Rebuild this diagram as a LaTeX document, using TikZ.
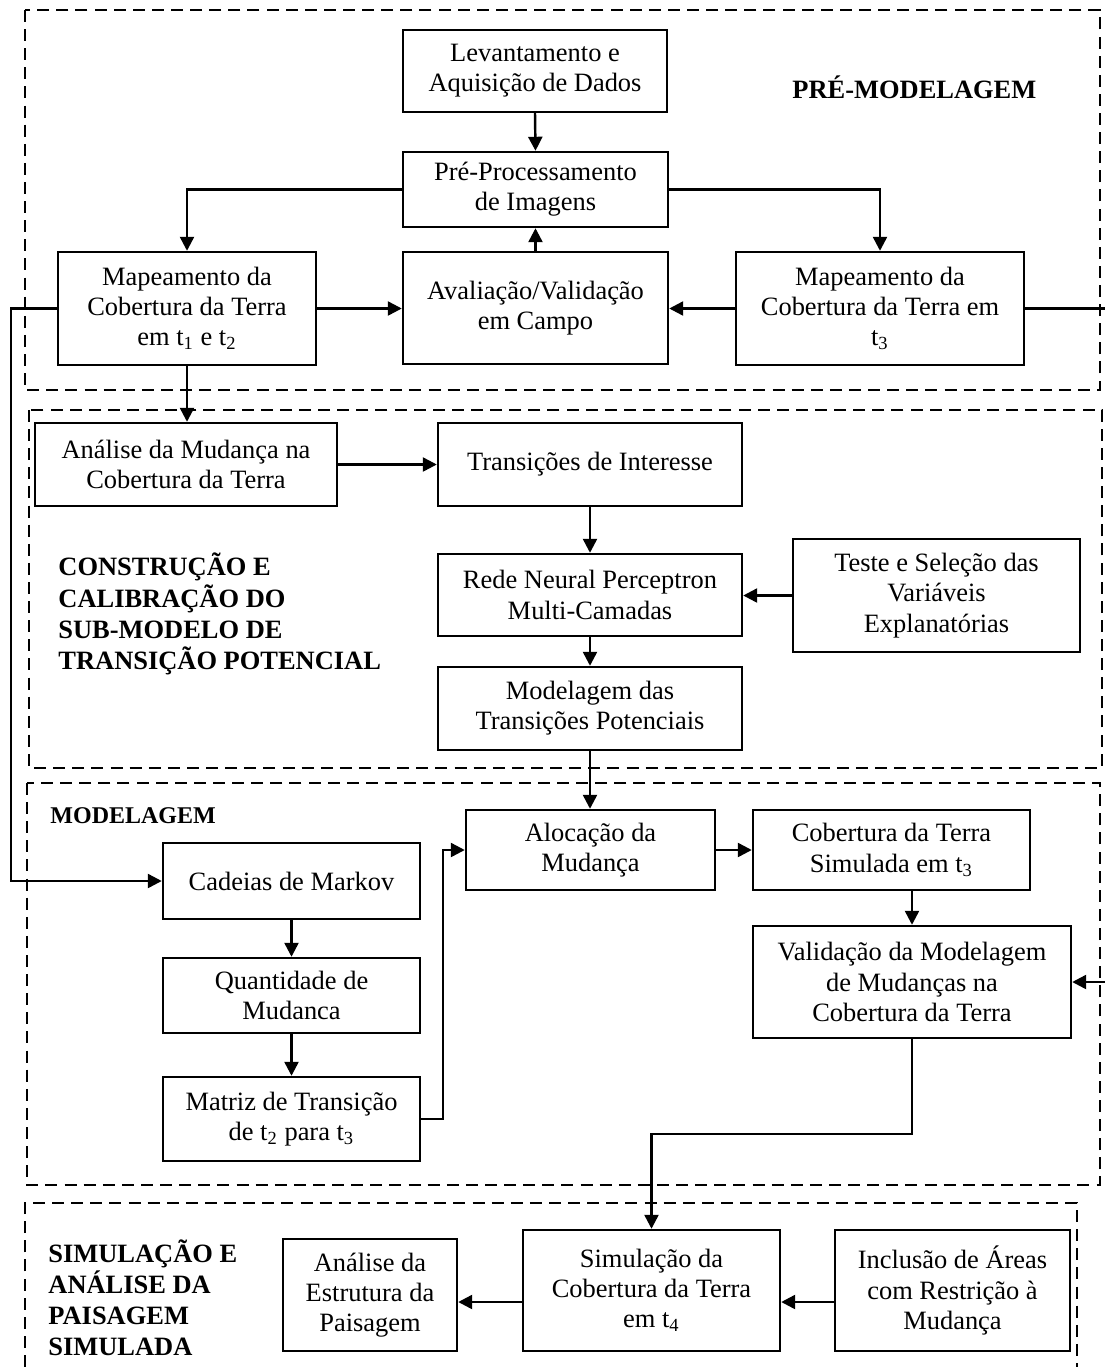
\documentclass[tikz,border=0pt]{standalone}
\usepackage{fontspec}
\setmainfont{Liberation Serif}
\usetikzlibrary{arrows.meta}

\begin{document}
\begin{tikzpicture}[x=0.45pt,y=-0.45pt,
  box/.style={draw, line width=1.1pt, inner sep=0pt, align=center,
    font=\fontsize{11.9pt}{13.6pt}\selectfont},
  wh/.style 2 args={minimum width=#1*0.45pt, minimum height=#2*0.45pt},
  frame/.style={line width=1.2pt, dash pattern=on 5.4pt off 3.2pt},
  conn/.style={line width=1.1pt},
  arr/.style={conn, -{Triangle[length=6.3pt,width=6.3pt]}},
  phase/.style={font=\fontsize{11.9pt}{14pt}\selectfont\bfseries, align=left, inner sep=0pt, anchor=west}
]
\useasboundingbox (0,0) rectangle (1105,1367);

% phase frames
\draw[frame] (25,10) rectangle (1100,390);
\draw[frame] (29,410) rectangle (1102,768);
\draw[frame] (27,783) rectangle (1100,1185);
\draw[frame] (25,1367) -- (25,1203) -- (1077,1203) -- (1077,1367);

% phase titles
\node[phase] (tpre) at (792,87) {PRÉ-MODELAGEM};
\node[phase] (tcon) at (58,614) {CONSTRUÇÃO E\\CALIBRAÇÃO DO\\SUB-MODELO DE\\TRANSIÇÃO POTENCIAL};
\node[phase, font=\fontsize{10.8pt}{13pt}\selectfont\bfseries] (tmod) at (50,816) {MODELAGEM};
\node[phase] (tsim) at (48,1298) {SIMULAÇÃO E\\ANÁLISE DA\\PAISAGEM\\SIMULADA};

% pre-modelling
\node[box, wh={264}{82}] (lev) at (535,71) {Levantamento e\\Aquisição de Dados};
\node[box, wh={265}{75}] (pre) at (535.5,189.5) {Pré-Processamento\\de Imagens};
\node[box, wh={265}{112}] (ava) at (535.5,308) {Avaliação/Validação\\em Campo};
\node[box, wh={258}{113}] (m12) at (187,308.5) {Mapeamento da\\Cobertura da Terra\\em t\textsubscript{1} e t\textsubscript{2}};
\node[box, wh={288}{113}] (m3) at (880,308.5) {Mapeamento da\\Cobertura da Terra em\\t\textsubscript{3}};

% transition potential sub-model
\node[box, wh={302}{83}] (amc) at (186,464.5) {Análise da Mudança na\\Cobertura da Terra};
\node[box, wh={304}{83}] (tri) at (590,464.5) {Transições de Interesse};
\node[box, wh={304}{82}] (rna) at (590,595) {Rede Neural Perceptron\\Multi-Camadas};
\node[box, wh={287}{113}] (tsv) at (936.5,595.5) {Teste e Seleção das\\Variáveis\\Explanatórias};
\node[box, wh={304}{83}] (mtp) at (590,708.5) {Modelagem das\\Transições Potenciais};

% modelling
\node[box, wh={249}{80}] (alo) at (590.5,850) {Alocação da\\Mudança};
\node[box, wh={277}{80}] (cst) at (891.5,850) {Cobertura da Terra\\Simulada em t\textsubscript{3}};
\node[box, wh={257}{76}] (cad) at (291.5,881) {Cadeias de Markov};
\node[box, wh={257}{75}] (qtd) at (291.5,995.5) {Quantidade de\\Mudanca};
\node[box, wh={257}{84}] (mat) at (291.5,1119) {Matriz de Transição\\de t\textsubscript{2} para t\textsubscript{3}};
\node[box, wh={318}{112}] (val) at (912,982) {Validação da Modelagem\\de Mudanças na\\Cobertura da Terra};

% simulation
\node[box, wh={174}{112}] (aep) at (370,1295) {Análise da\\Estrutura da\\Paisagem};
\node[box, wh={257}{121}] (sim) at (651.5,1290.5) {Simulação da\\Cobertura da Terra\\em t\textsubscript{4}};
\node[box, wh={235}{121}] (inc) at (952.5,1290.5) {Inclusão de Áreas\\com Restrição à\\Mudança};

% helper coordinates for routed connectors
\coordinate (redge) at (1105,308);
\coordinate (vedge) at (1105,982);
\coordinate (lx) at (11,881);
\coordinate (mx) at (443,0);
\coordinate (vb) at (0,1134);
\coordinate (ay) at (0,1302);

% connectors
\draw[arr] (lev.south) -- (pre.north);
\draw[arr] (pre.west) -| (m12.north);
\draw[arr] (pre.east) -| (m3.north);
\draw[arr] (ava.north) -- (pre.south);
\draw[arr] (m12.east) -- (m12.east -| ava.west);
\draw[arr] (m3.west) -- (m3.west -| ava.east);
\draw[conn] (m3.east) -- (m3.east -| redge);
\draw[arr] (m12.west) -| (lx) -- (cad.west);
\draw[arr] (m12.south) -- (m12.south |- amc.north);
\draw[arr] (amc.east) -- (amc.east -| tri.west);
\draw[arr] (tri.south) -- (rna.north);
\draw[arr] (tsv.west) -- (tsv.west -| rna.east);
\draw[arr] (rna.south) -- (mtp.north);
\draw[arr] (mtp.south) -- (mtp.south |- alo.north);
\draw[arr] (alo.east) -- (alo.east -| cst.west);
\draw[arr] (val.north |- cst.south) -- (val.north);
\draw[arr] (cad.south) -- (qtd.north);
\draw[arr] (qtd.south) -- (mat.north);
\draw[arr] (mat.east) -| (mx |- alo.west) -- (alo.west);
\draw[arr] (val.south) -- (val.south |- vb) -| (sim.north);
\draw[arr] (vedge) -- (val.east);
\draw[arr] (inc.west |- ay) -- (sim.east |- ay);
\draw[arr] (sim.west |- ay) -- (aep.east |- ay);
\end{tikzpicture}
\end{document}
